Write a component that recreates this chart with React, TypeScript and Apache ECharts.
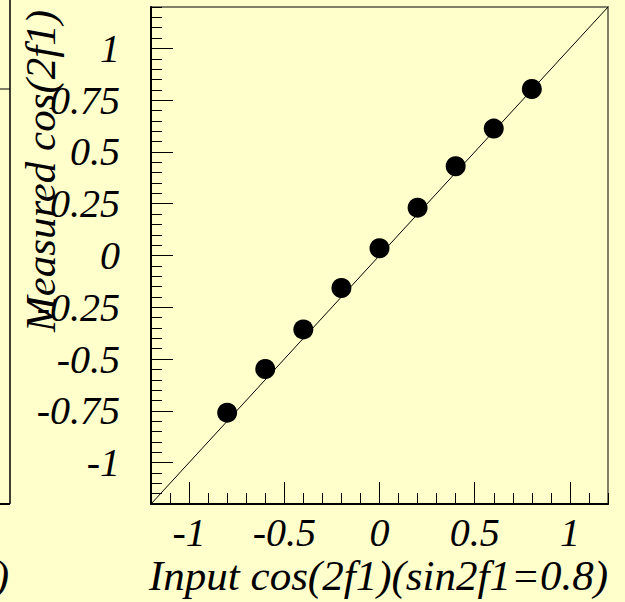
import React, { useEffect, useRef } from "react";
import * as echarts from "echarts";

const xValues = [-0.8, -0.6, -0.4, -0.2, 0, 0.2, 0.4, 0.6, 0.8];
const yValues = [-0.759, -0.548, -0.357, -0.157, 0.035, 0.231, 0.431, 0.613, 0.804];
const xMajorTicks = [-1, -0.5, 0, 0.5, 1];
const yMajorTicks = [-1, -0.75, -0.5, -0.25, 0, 0.25, 0.5, 0.75, 1];
const diagonalX = [-1.2, 1.2];
const diagonalY = [-1.2, 1.2];
const xTitle = "Input cos(2f1)(sin2f1=0.8)";
const yTitle = "Measured cos(2f1)";

const FONT = '"Liberation Serif", "Times New Roman", serif';
const BG = "#ffffcc";

export default function App() {
  const ref = useRef<HTMLDivElement>(null);
  useEffect(() => {
    if (!ref.current) return;
    const chart = echarts.init(ref.current, undefined, { renderer: "svg" });
    const gridRect = { left: 151, right: 17, top: 7, bottom: 98 };
    const labelStyle = {
      fontFamily: FONT,
      fontStyle: "italic" as const,
      fontSize: 40,
      color: "#000",
    };
    const option: any = {
      animation: false,
      backgroundColor: BG,
      grid: [
        { ...gridRect, show: true, borderColor: "#80806a", borderWidth: 2, backgroundColor: "transparent" },
        { ...gridRect, show: false },
      ],
      xAxis: [
        {
          type: "value",
          gridIndex: 0,
          min: -1.2,
          max: 1.2,
          position: "bottom",
          axisLine: { show: true, onZero: false, lineStyle: { color: "#000", width: 2 } },
          axisTick: { show: true, inside: true, length: 22, customValues: xMajorTicks, lineStyle: { color: "#000", width: 1 } },
          axisLabel: { show: true, customValues: xMajorTicks, margin: 8, ...labelStyle },
          splitLine: { show: false },
        },
        {
          type: "value",
          gridIndex: 1,
          min: -1.2,
          max: 1.2,
          interval: 0.1,
          position: "bottom",
          axisLine: { show: false, onZero: false },
          axisTick: { show: true, inside: true, length: 11, lineStyle: { color: "#000", width: 1 } },
          axisLabel: { show: false },
          splitLine: { show: false },
        },
      ],
      yAxis: [
        {
          type: "value",
          gridIndex: 0,
          min: -1.2,
          max: 1.2,
          position: "left",
          axisLine: { show: true, onZero: false, lineStyle: { color: "#000", width: 2 } },
          axisTick: { show: true, inside: true, length: 22, customValues: yMajorTicks, lineStyle: { color: "#000", width: 1 } },
          axisLabel: { show: true, customValues: yMajorTicks, margin: 31, ...labelStyle },
          splitLine: { show: false },
        },
        {
          type: "value",
          gridIndex: 1,
          min: -1.2,
          max: 1.2,
          interval: 0.05,
          position: "left",
          axisLine: { show: false, onZero: false },
          axisTick: { show: true, inside: true, length: 11, lineStyle: { color: "#000", width: 1 } },
          axisLabel: { show: false },
          splitLine: { show: false },
        },
      ],
      series: [
        {
          type: "line",
          xAxisIndex: 0,
          yAxisIndex: 0,
          data: diagonalX.map((x, i) => [x, diagonalY[i]]),
          showSymbol: false,
          symbol: "none",
          lineStyle: { color: "#000", width: 1 },
          silent: true,
        },
        {
          type: "scatter",
          xAxisIndex: 0,
          yAxisIndex: 0,
          data: xValues.map((x, i) => [x, yValues[i]]),
          symbol: "circle",
          symbolSize: 20,
          itemStyle: { color: "#000", opacity: 1 },
        },
      ],
      graphic: [
        {
          type: "line",
          shape: { x1: 10, y1: 0, x2: 10, y2: 504 },
          style: { stroke: "#000", lineWidth: 1.5 },
        },
        {
          type: "line",
          shape: { x1: 0, y1: 89, x2: 10, y2: 89 },
          style: { stroke: "#000", lineWidth: 1 },
        },
        {
          type: "line",
          shape: { x1: 0, y1: 504, x2: 10, y2: 504 },
          style: { stroke: "#000", lineWidth: 2 },
        },
        {
          type: "text",
          x: 9,
          y: 575,
          style: { text: ")", font: `italic 43px ${FONT}`, fill: "#000", align: "right", verticalAlign: "middle" },
        },
        {
          type: "text",
          x: 608,
          y: 575,
          style: { text: xTitle, font: `italic 43px ${FONT}`, fill: "#000", align: "right", verticalAlign: "middle" },
        },
        {
          type: "text",
          x: 40,
          y: 10,
          rotation: Math.PI / 2,
          style: { text: yTitle, font: `italic 43px ${FONT}`, fill: "#000", align: "right", verticalAlign: "middle" },
        },
      ],
    };
    chart.setOption(option);
    return () => chart.dispose();
  }, []);
  return (
    <div
      ref={ref}
      style={{ position: "absolute", left: 0, top: 0, width: 625, height: 602, background: BG }}
    />
  );
}
